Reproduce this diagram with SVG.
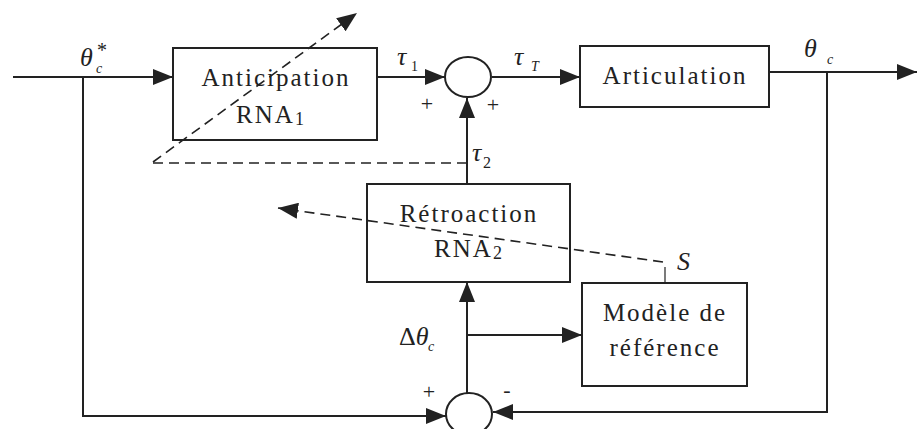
<svg xmlns="http://www.w3.org/2000/svg" width="917" height="429" viewBox="0 0 917 429">
<style>
.box{fill:none;stroke:#222;stroke-width:2}
.ln{fill:none;stroke:#222;stroke-width:2}
.dash{fill:none;stroke:#222;stroke-width:1.6;stroke-dasharray:10 6}
text{fill:#222}
.t{font-size:25px;letter-spacing:2px;text-anchor:middle}
.m{font-size:26px;font-style:italic}
.s{font-size:14px;font-style:italic}
.p{font-size:22px;text-anchor:middle}
</style>
<defs>
<marker id="ah" viewBox="0 0 20 16" refX="20" refY="8" markerWidth="20" markerHeight="16" markerUnits="userSpaceOnUse" orient="auto">
<path d="M0,0 L20,8 L0,16 Z" fill="#222"/>
</marker>
</defs>
<g font-family="'Liberation Serif', 'Times New Roman', serif">
<g id="anticipation">
<rect class="box" x="173" y="48" width="204" height="92"/>
<text class="t" x="276" y="86">Anticipation</text>
<text class="t" x="271" y="123">RNA<tspan font-size="18" dy="2">1</tspan></text>
</g>
<g id="sum1">
<ellipse class="ln" cx="468" cy="77" rx="23" ry="20"/>
<text class="p" x="427" y="111">+</text>
<text class="p" x="493" y="112">+</text>
</g>
<g id="articulation">
<rect class="box" x="580" y="46" width="189" height="61"/>
<text class="t" x="675" y="84">Articulation</text>
</g>
<g id="retroaction">
<rect class="box" x="367" y="184" width="203" height="98"/>
<text class="t" x="469" y="222">Rétroaction</text>
<text class="t" x="469" y="257">RNA<tspan font-size="18" dy="2">2</tspan></text>
</g>
<g id="modele">
<rect class="box" x="582" y="283" width="165" height="103"/>
<text class="t" x="665" y="321">Modèle de</text>
<text class="t" x="665" y="356">référence</text>
</g>
<g id="sum2">
<ellipse class="ln" cx="469" cy="414" rx="23" ry="21"/>
<text class="p" x="429" y="399">+</text>
<text class="p" x="507" y="397">-</text>
</g>
<g id="connectors">
<path class="ln" d="M13,77 H173" marker-end="url(#ah)"/>
<path class="ln" d="M83,77 V416 H446" marker-end="url(#ah)"/>
<path class="ln" d="M377,77 H445" marker-end="url(#ah)"/>
<path class="ln" d="M492,77 H580" marker-end="url(#ah)"/>
<path class="ln" d="M769,72 H917" marker-end="url(#ah)"/>
<path class="ln" d="M827,72 V412 H493" marker-end="url(#ah)"/>
<path class="ln" d="M467,184 V98" marker-end="url(#ah)"/>
<path class="ln" d="M467,393 V282" marker-end="url(#ah)"/>
<path class="ln" d="M467,335 H582" marker-end="url(#ah)"/>
<path class="ln" d="M665,267 V283" style="stroke-width:1.2"/>
<path class="dash" d="M153,162 L357,13" marker-end="url(#ah)"/>
<path class="dash" d="M153,163 H466"/>
<path class="dash" d="M663,262 L278,208" marker-end="url(#ah)"/>
</g>
<g id="labels">
<text class="m" x="80" y="66">θ</text><text class="s" x="96" y="73">c</text><text x="97" y="57" font-size="20">*</text>
<text class="m" x="397" y="65">τ</text><text x="411" y="71" font-size="14">1</text>
<text class="m" x="514" y="65">τ</text><text class="s" x="531" y="71">T</text>
<text class="m" x="804" y="57">θ</text><text class="s" x="827" y="64">c</text>
<text class="m" x="472" y="161">τ</text><text x="483" y="168" font-size="16">2</text>
<text class="m" x="399" y="345"><tspan font-style="normal">Δ</tspan>θ</text><text class="s" x="428" y="351">c</text>
<text class="m" x="677" y="270">S</text>
</g>
</g>
</svg>
